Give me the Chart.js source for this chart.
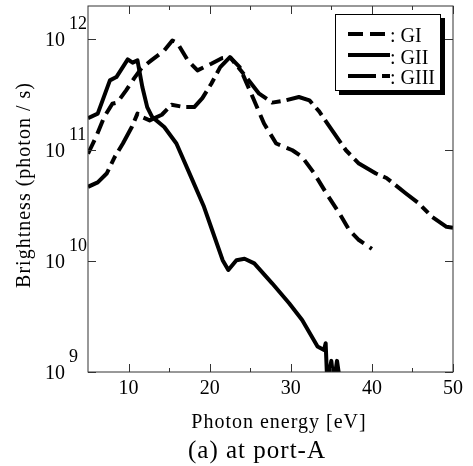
<!DOCTYPE html>
<html lang="en">
<head>
<meta charset="UTF-8" />
<title>Brightness at port-A</title>
<style>
   body { margin: 0; background: #fff; }
   #grafico { display: block; }
</style>
</head>
<body>
<canvas id="grafico" width="473" height="466"></canvas>
<script src="https://cdn.jsdelivr.net/npm/chart.js"></script>
<script>
   // photon energy [eV] and brightness [photon / s]
   var energia_gi = [5, 6, 7, 8, 8.6, 9.7, 10.7, 11.6, 12.8, 14.4, 15.4, 16, 17.3, 18.5, 20.2, 21.5, 22.5,
      23.7, 25.3, 26.7, 28.2, 30.2, 31.4, 32.9, 34.4, 36, 37.2, 38.4, 40];
   var brilho_gi = [9.3e10, 1.32e11, 2.0e11, 2.63e11, 2.69e11, 3.47e11, 4.47e11, 5.5e11, 6.46e11, 7.94e11,
      9.77e11, 9.33e11, 6.46e11, 5.25e11, 6.03e11, 6.76e11, 6.92e11, 5.62e11, 3.02e11, 1.74e11, 1.15e11,
      1.0e11, 8.71e10, 6.17e10, 4.07e10, 2.69e10, 1.91e10, 1.55e10, 1.29e10];

   var energia_gii = [5, 6.2, 6.8, 7.7, 8.5, 9.9, 10.5, 11.1, 11.7, 12.3, 12.9, 14.4, 15.9, 17.7, 19.3, 20.3,
      21.6, 22.3, 23.3, 24.3, 25.5, 27.7, 29.8, 31.4, 33.3, 34.1, 34.3, 34.5, 35, 35.3, 35.7, 36.1];
   var brilho_gii = [1.95e11, 2.14e11, 2.82e11, 4.27e11, 4.57e11, 6.61e11, 6.17e11, 6.46e11, 3.72e11, 2.45e11,
      2.0e11, 1.62e11, 1.15e11, 5.75e10, 3.09e10, 1.91e10, 1.02e10, 8.32e9, 1.02e10, 1.05e10, 9.55e9,
      6.31e9, 4.17e9, 2.95e9, 1.7e9, 1.58e9, 1.82e9, 7.9e8, 1.26e9, 7.9e8, 1.26e9, 7.9e8];

   var energia_giii = [5, 6.2, 7.3, 8.3, 9.3, 10.4, 11.1, 11.6, 12.6, 14.1, 15.3, 16.9, 18.1, 19.1, 20.2, 21.3,
      22.5, 24.5, 26.1, 27.7, 29.4, 31, 32.3, 33.5, 35.1, 36.8, 38.4, 40.5, 41.8, 44.2, 45.8, 47.4, 49.2, 50];
   var brilho_giii = [4.68e10, 5.13e10, 6.17e10, 8.71e10, 1.15e11, 1.62e11, 2.14e11, 2.0e11, 1.86e11, 2.09e11,
      2.57e11, 2.45e11, 2.45e11, 2.95e11, 3.98e11, 5.62e11, 6.92e11, 4.57e11, 3.24e11, 2.69e11, 2.82e11,
      3.02e11, 2.82e11, 2.24e11, 1.51e11, 1.0e11, 7.59e10, 6.17e10, 5.62e10, 4.07e10, 3.31e10, 2.51e10,
      2.04e10, 2.0e10];

   var nomes_series = ["GI", "GII", "GIII"];
   var ticks_x = [10, 20, 30, 40, 50];
   var ticks_x_menores = [15, 25, 35, 45];
   var expoentes_y = [9, 10, 11, 12];

   var fonte = "'Liberation Serif', 'Times New Roman', serif";
   var tracos = [[15, 7], [], [28, 6, 9, 6]];

   function pontos(xs, ys) {
      return xs.map(function (x, i) { return { x: x, y: ys[i] }; });
   }

   // eixos, rotulos e legenda desenhados por cima
   const moldura = {
      id: "moldura",
      afterDatasetsDraw(chart) {
         const ctx = chart.ctx;
         const a = chart.chartArea;
         const sx = chart.scales.x;
         const sy = chart.scales.y;
         ctx.save();
         ctx.strokeStyle = "#333";
         ctx.lineWidth = 1;
         ctx.setLineDash([]);
         ctx.strokeRect(a.left, a.top, a.right - a.left, a.bottom - a.top);

         ctx.beginPath();
         ticks_x.concat(ticks_x_menores).forEach(function (v) {
            const px = Math.round(sx.getPixelForValue(v)) + 0.5;
            const t = ticks_x.indexOf(v) >= 0 ? 8 : 4;
            ctx.moveTo(px, a.bottom); ctx.lineTo(px, a.bottom - t);
            ctx.moveTo(px, a.top); ctx.lineTo(px, a.top + t);
         });
         expoentes_y.forEach(function (e) {
            const py = Math.round(sy.getPixelForValue(Math.pow(10, e))) + 0.5;
            ctx.moveTo(a.left, py); ctx.lineTo(a.left + 8, py);
            ctx.moveTo(a.right, py); ctx.lineTo(a.right - 8, py);
         });
         ctx.stroke();

         ctx.fillStyle = "#000";
         ctx.font = "20px " + fonte;
         ctx.textAlign = "center";
         ticks_x.forEach(function (v) {
            ctx.fillText(String(v), sx.getPixelForValue(v), 394);
         });
         expoentes_y.forEach(function (e) {
            const py = sy.getPixelForValue(Math.pow(10, e));
            ctx.font = "20px " + fonte;
            ctx.textAlign = "right";
            ctx.fillText("10", 65, py + 7);
            ctx.font = "18px " + fonte;
            ctx.textAlign = "left";
            ctx.fillText(String(e), 69, py - 10);
         });

         ctx.letterSpacing = "1px";
         ctx.textAlign = "center";
         ctx.font = "20px " + fonte;
         ctx.fillText("Photon energy [eV]", 279, 428);
         ctx.font = "25px " + fonte;
         ctx.fillText("(a) at port-A", 257, 458);
         ctx.save();
         ctx.translate(30, 185);
         ctx.rotate(-Math.PI / 2);
         ctx.font = "20px " + fonte;
         ctx.fillText("Brightness (photon / s)", 0, 0);
         ctx.restore();

         // legenda com sombra
         ctx.fillStyle = "#000";
         ctx.fillRect(339, 18, 106, 77);
         ctx.fillStyle = "#fff";
         ctx.fillRect(335, 14, 106, 77);
         ctx.strokeStyle = "#000";
         ctx.strokeRect(335.5, 14.5, 105, 76);
         const linhas_y = [34, 55, 76];
         const base_y = [42, 64, 84];
         ctx.letterSpacing = "0px";
         nomes_series.forEach(function (nome, i) {
            ctx.beginPath();
            ctx.lineWidth = 4;
            ctx.setLineDash(tracos[i]);
            ctx.moveTo(348, linhas_y[i]);
            ctx.lineTo(390, linhas_y[i]);
            ctx.stroke();
            ctx.setLineDash([]);
            ctx.fillStyle = "#000";
            ctx.font = "20px " + fonte;
            ctx.textAlign = "left";
            ctx.fillText(": " + nome, 390, base_y[i]);
         });
         ctx.restore();
      },
   };

   function serie(nome, xs, ys, i) {
      return {
         label: nome,
         data: pontos(xs, ys),
         borderColor: "#000",
         borderWidth: 4,
         borderDash: tracos[i],
         borderJoinStyle: "round",
         pointRadius: 0,
         fill: false,
         tension: 0,
      };
   }

   const config_grafico = {
      type: "line",
      data: {
         datasets: [
            serie(nomes_series[0], energia_gi, brilho_gi, 0),
            serie(nomes_series[1], energia_gii, brilho_gii, 1),
            serie(nomes_series[2], energia_giii, brilho_giii, 2),
         ],
      },
      options: {
         responsive: false,
         animation: false,
         devicePixelRatio: 1,
         layout: { padding: { left: 88, top: 6, right: 20, bottom: 94 } },
         scales: {
            x: { type: "linear", min: 5, max: 50, display: false },
            y: { type: "logarithmic", min: 1e9, max: 2e12, display: false },
         },
         plugins: {
            legend: { display: false },
            tooltip: { enabled: false },
         },
      },
      plugins: [moldura],
   };

   const grafico = new Chart(document.getElementById("grafico"), config_grafico);
</script>
</body>
</html>
